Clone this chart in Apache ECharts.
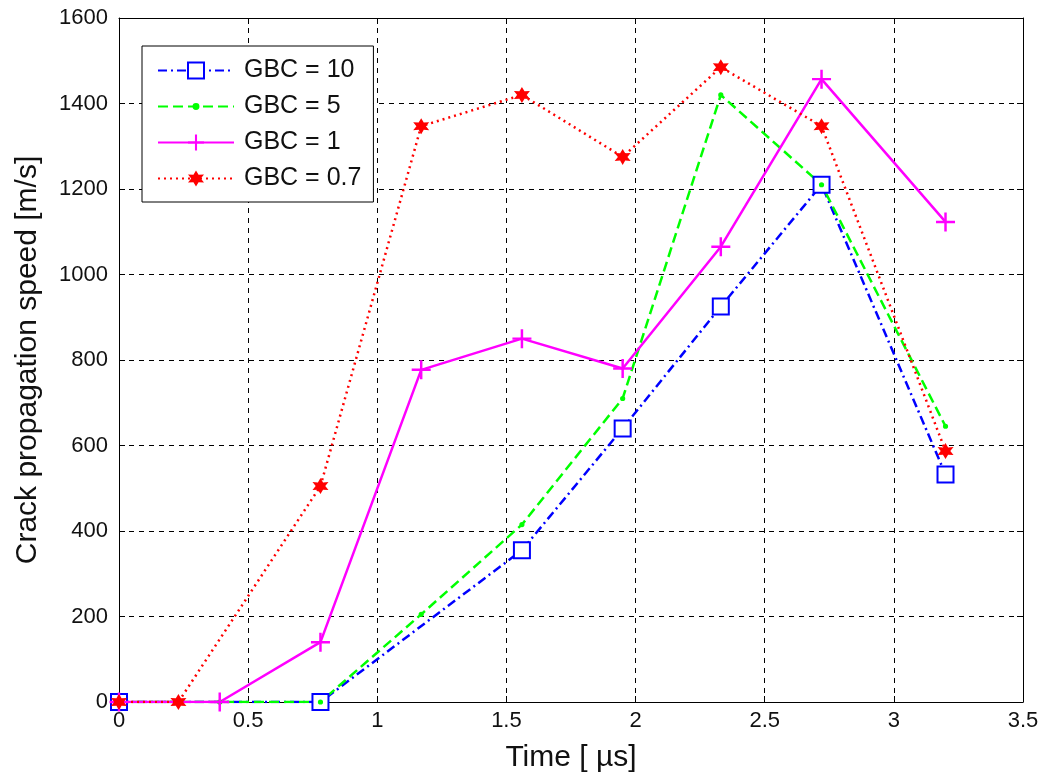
<!DOCTYPE html>
<html>
<head>
<meta charset="utf-8">
<script src="https://cdn.jsdelivr.net/npm/echarts@6/dist/echarts.min.js"></script>
<style>html,body{margin:0;padding:0;background:#fff;}#c{width:1046px;height:780px;}</style>
</head>
<body>
<div id="c"></div>
<script>
var xTicks = [0, 0.5, 1, 1.5, 2, 2.5, 3, 3.5];
var yTicks = [0, 200, 400, 600, 800, 1000, 1200, 1400, 1600];

var tGBC10 = [0, 0.78, 1.56, 1.95, 2.33, 2.72, 3.2];
var vGBC10 = [0, 0, 355, 640, 925, 1210, 532];

var tGBC5 = [0, 0.39, 0.78, 1.17, 1.56, 1.95, 2.33, 2.72, 3.2];
var vGBC5 = [0, 0, 0, 205, 415, 710, 1420, 1210, 645];

var tGBC1 = [0, 0.39, 0.78, 1.17, 1.56, 1.95, 2.33, 2.72, 3.2];
var vGBC1 = [0, 0, 140, 777, 850, 780, 1065, 1457, 1123];

var tGBC07 = [0, 0.23, 0.78, 1.17, 1.56, 1.95, 2.33, 2.72, 3.2];
var vGBC07 = [0, 0, 505, 1347, 1420, 1275, 1485, 1347, 587];

var names = ['GBC = 10', 'GBC = 5', 'GBC = 1', 'GBC = 0.7'];

function pairs(t, v) { return t.map(function (x, i) { return [x, v[i]]; }); }

var FONT = '"Liberation Sans", Arial, sans-serif';
var plusPath = 'path://M-1.3,-10H1.3V-1.3H10V1.3H1.3V10H-1.3V1.3H-10V-1.3H-1.3Z';
var starPath = 'path://M0,-10L2.8,-4.6L8.7,-5L5.2,0L8.7,5L2.8,4.6L0,10L-2.8,4.6L-8.7,5L-5.2,0L-8.7,-5L-2.8,-4.6Z';
// small dot inside a larger invisible bounding box
var dotPath = 'path://M-6,-6L-6,-6ZM6,6L6,6ZM-2.6,0A2.6,2.6,0,1,1,2.6,0A2.6,2.6,0,1,1,-2.6,0Z';

var chart = echarts.init(document.getElementById('c'), null, {renderer: 'canvas'});

var axisCommon = {
  type: 'value',
  axisLine: {show: true, onZero: false, lineStyle: {color: '#000', width: 1}},
  axisTick: {show: true, inside: true, length: 6, lineStyle: {color: '#000', width: 1}}
};

chart.setOption({
  animation: false,
  backgroundColor: '#fff',
  grid: {left: 119, right: 23, top: 18, bottom: 78, containLabel: false},
  legend: {
    orient: 'vertical',
    left: 142, top: 46,
    backgroundColor: '#fff',
    borderColor: '#000', borderWidth: 1,
    padding: [12, 12, 11, 15],
    itemWidth: 76, itemHeight: 20, itemGap: 11,
    textStyle: {fontFamily: FONT, fontSize: 25, color: '#111', padding: [0, 0, 0, 5]},
    data: names
  },
  xAxis: [
    Object.assign({}, axisCommon, {
      min: 0, max: 3.5, interval: 0.5, position: 'bottom',
      axisLabel: {fontFamily: FONT, fontSize: 22, color: '#111', margin: 8,
        formatter: function (v) { return String(v); }},
      splitLine: {show: true, lineStyle: {color: '#000', type: [5, 5], width: 1}},
      name: 'Time [ \u00b5s]', nameLocation: 'middle', nameGap: 41,
      nameTextStyle: {fontFamily: FONT, fontSize: 30, color: '#111'}
    }),
    Object.assign({}, axisCommon, {
      min: 0, max: 3.5, interval: 0.5, position: 'top',
      axisLabel: {show: false}, splitLine: {show: false}
    })
  ],
  yAxis: [
    Object.assign({}, axisCommon, {
      min: 0, max: 1600, interval: 200, position: 'left',
      axisLabel: {fontFamily: FONT, fontSize: 22, color: '#111', margin: 11,
        formatter: function (v) { return String(v); }},
      splitLine: {show: true, lineStyle: {color: '#000', type: [5, 5], width: 1}},
      name: 'Crack propagation speed [m/s]', nameLocation: 'middle', nameGap: 76,
      nameTextStyle: {fontFamily: FONT, fontSize: 30, color: '#111'}
    }),
    Object.assign({}, axisCommon, {
      min: 0, max: 1600, interval: 200, position: 'right',
      axisLabel: {show: false}, splitLine: {show: false}
    })
  ],
  series: [
    {
      name: names[0], type: 'line', data: pairs(tGBC10, vGBC10),
      xAxisIndex: 0, yAxisIndex: 0,
      symbol: 'emptyRect', symbolSize: 16, showAllSymbol: true,
      lineStyle: {color: '#0000ff', width: 2.5, type: [9, 4, 2, 4]},
      itemStyle: {color: '#0000ff', borderColor: '#0000ff', borderWidth: 2.5}
    },
    {
      name: names[1], type: 'line', data: pairs(tGBC5, vGBC5),
      symbol: dotPath, symbolSize: 12, showAllSymbol: true,
      lineStyle: {color: '#00ff00', width: 2.5, type: [10, 5]},
      itemStyle: {color: '#00ff00'}
    },
    {
      name: names[2], type: 'line', data: pairs(tGBC1, vGBC1),
      symbol: plusPath, symbolSize: 19, showAllSymbol: true,
      lineStyle: {color: '#ff00ff', width: 2.5, type: 'solid'},
      itemStyle: {color: '#ff00ff'}
    },
    {
      name: names[3], type: 'line', data: pairs(tGBC07, vGBC07),
      symbol: starPath, symbolSize: 16, showAllSymbol: true,
      lineStyle: {color: '#ff0000', width: 2.5, type: [2, 4]},
      itemStyle: {color: '#ff0000'}
    }
  ]
});
</script>
</body>
</html>
